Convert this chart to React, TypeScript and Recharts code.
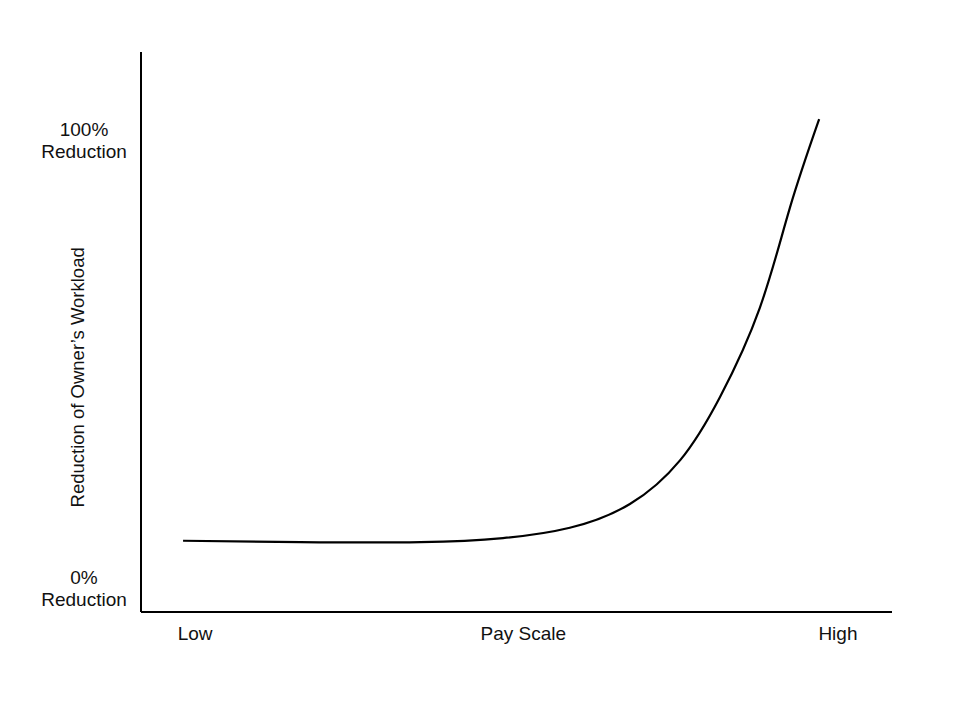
import { LineChart, Line, XAxis, YAxis, Label } from "recharts"

// curve: x = position along pay scale (0-100), y = % reduction
const payScale = [5.6, 21.2, 37.2, 48.2, 57.1, 65.1, 71.8, 77.1, 82.4, 86.4, 90.3]
const reduction = [10.9, 10.6, 10.6, 11.5, 13.8, 19.1, 28.9, 43.0, 62.9, 85.2, 105.0]

const xTickValues = [7.2, 50.9, 92.8]
const xTickLabels = ["Low", "Pay Scale", "High"]
const yTickValues = [0, 100]
const yTickLabels = [["0%", "Reduction"], ["100%", "Reduction"]]

const data = payScale.map((x, i) => ({ x, y: reduction[i] }))

const FONT = "'Liberation Sans', Arial, sans-serif"

const XTick = ({ x, y, payload }: any) => {
  const idx = xTickValues.indexOf(payload.value)
  return (
    <text x={x} y={y + 21} textAnchor="middle" dominantBaseline="central" fontSize={19} fill="#111" fontFamily={FONT}>
      {xTickLabels[idx]}
    </text>
  )
}

const YTick = ({ x, y, payload }: any) => {
  const idx = yTickValues.indexOf(payload.value)
  const lines = yTickLabels[idx] || []
  return (
    <text x={x - 57} y={y} textAnchor="middle" fontSize={19} fill="#111" fontFamily={FONT}>
      <tspan x={x - 57} y={y - 12} dominantBaseline="central">{lines[0]}</tspan>
      <tspan x={x - 57} y={y + 10} dominantBaseline="central">{lines[1]}</tspan>
    </text>
  )
}

const YTitle = ({ viewBox }: any) => {
  const cx = viewBox.x + viewBox.width - 63
  const cy = viewBox.y + viewBox.height * 0.581
  return (
    <text x={cx} y={cy} transform={`rotate(-90 ${cx} ${cy})`} textAnchor="middle" dominantBaseline="central" fontSize={18.5} fill="#111" fontFamily={FONT}>
      Reduction of Owner’s Workload
    </text>
  )
}

export default function App() {
  return (
    <div style={{ position: "absolute", left: 0, top: 0, width: 960, height: 720, background: "#fff" }}>
      <LineChart width={960} height={720} data={data} margin={{ top: 52, right: 68, bottom: 0, left: 0 }}>
        <XAxis
          dataKey="x"
          type="number"
          domain={[0, 100]}
          ticks={xTickValues}
          height={108}
          tickSize={0}
          tickMargin={0}
          tickLine={false}
          axisLine={{ stroke: "#000", strokeWidth: 2 }}
          tick={<XTick />}
        />
        <YAxis
          type="number"
          domain={[-5, 120]}
          ticks={yTickValues}
          width={141}
          tickSize={0}
          tickMargin={0}
          tickLine={false}
          axisLine={{ stroke: "#000", strokeWidth: 2 }}
          tick={<YTick />}
        >
          <Label content={<YTitle />} />
        </YAxis>
        <Line type="natural" dataKey="y" stroke="#000" strokeWidth={2.2} dot={false} isAnimationActive={false} />
      </LineChart>
    </div>
  )
}
